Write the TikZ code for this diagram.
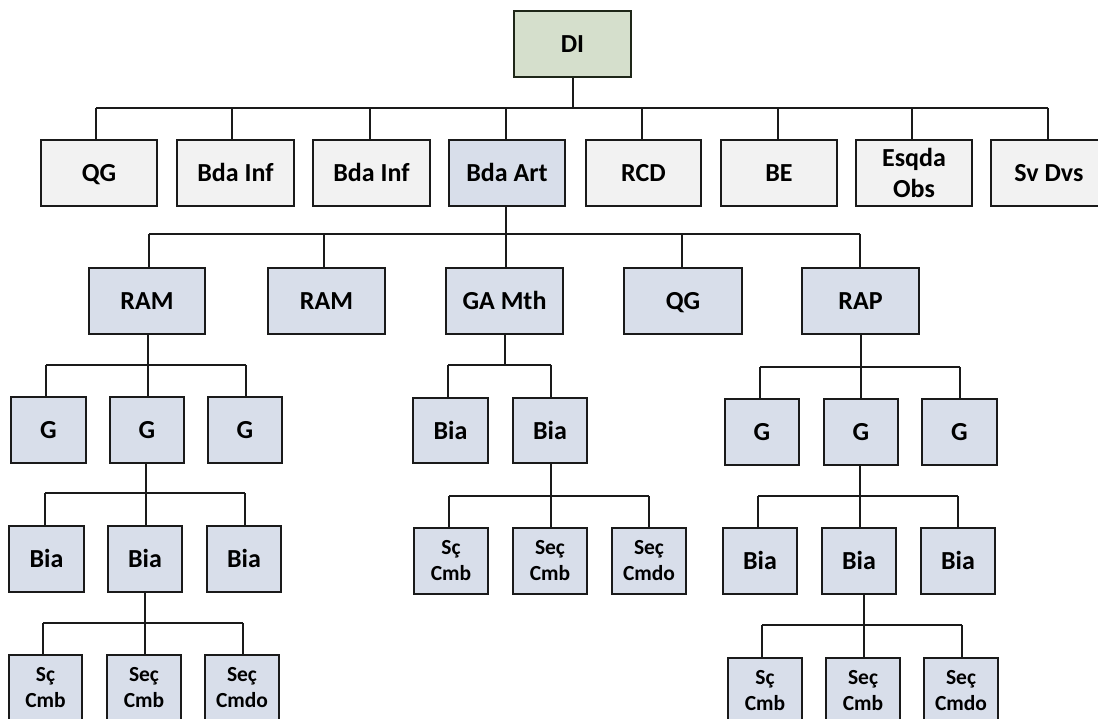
\documentclass[tikz,border=0pt]{standalone}
\usepackage{fontspec}
\setmainfont{Carlito}
\definecolor{rootfill}{HTML}{D5DFCC}
\definecolor{rootline}{HTML}{1E2618}
\definecolor{greyfill}{HTML}{F2F2F2}
\definecolor{bluefill}{HTML}{D8DEEA}
\definecolor{inkline}{HTML}{1A1A1A}
\tikzset{
  unitbox/.style={draw=inkline, line width=2.2pt, inner sep=0pt, align=center,
    font=\fontsize{26}{31}\selectfont\bfseries, text=black,
    text height=17pt, text depth=0pt},
  twoline/.style={text height={}, text depth={}},
  smallbox/.style={unitbox, twoline, font=\fontsize{21.5}{26}\selectfont\bfseries},
  rootunit/.style={unitbox, fill=rootfill, draw=rootline},
  staffunit/.style={unitbox, fill=greyfill},
  artunit/.style={unitbox, fill=bluefill},
  artsmall/.style={smallbox, fill=bluefill},
  wire/.style={draw=inkline, line width=2pt},
}
% box from its corners: name, x1, y1, x2, y2, style, text
\newcommand\orgbox[7]{%
  \node[#6, minimum width={(#4-#2)*1pt}, minimum height={(#5-#3)*1pt}]
    (#1) at ({(#2+#4)/2},{(#3+#5)/2}) {#7};}
% stem under a parent down to a bus: parent, x, bus y
\newcommand\stem[3]{\draw[wire] (#1.south -| #2,0) -- (#2,#3);}
% horizontal bus: y, x from, x to
\newcommand\bus[3]{\draw[wire] (#2,#1) -- (#3,#1);}
% drop from a bus to a child: child, x, bus y
\newcommand\drop[3]{\draw[wire] (#2,#3) -- (#1.north -| #2,0);}

\begin{document}
\begin{tikzpicture}[x=1pt,y=-1pt]
\fill[white] (0,0) rectangle (1098,719);

% division
\orgbox{DI}{514}{11}{631}{77}{rootunit}{DI}

% first level
\orgbox{QGa}{41}{140}{157}{206}{staffunit}{QG}
\orgbox{BIa}{177}{140}{294}{206}{staffunit}{Bda Inf}
\orgbox{BIb}{313}{140}{430}{206}{staffunit}{Bda Inf}
\orgbox{BArt}{449}{140}{565}{206}{artunit}{Bda Art}
\orgbox{RCD}{586}{140}{701}{206}{staffunit}{RCD}
\orgbox{BE}{721}{140}{837}{206}{staffunit}{BE}
\orgbox{EOb}{856}{140}{972}{206}{staffunit,twoline}{Esqda\\Obs}
\orgbox{SvD}{991}{140}{1107}{206}{staffunit}{Sv Dvs}

\stem{DI}{573}{108}
\bus{108}{96}{1048}
\foreach \n/\x in {QGa/96, BIa/232, BIb/370, BArt/506, RCD/642, BE/778, EOb/912, SvD/1048}
  {\drop{\n}{\x}{108}}

% artillery brigade
\orgbox{RAMa}{89}{268}{205}{334}{artunit}{RAM}
\orgbox{RAMb}{268}{268}{385}{334}{artunit}{RAM}
\orgbox{GAM}{446}{268}{563}{334}{artunit}{GA Mth}
\orgbox{QGb}{624}{268}{742}{334}{artunit}{QG}
\orgbox{RAP}{802}{268}{919}{334}{artunit}{RAP}

\stem{BArt}{506}{234}
\bus{234}{149}{860}
\foreach \n/\x in {RAMa/149, RAMb/324, GAM/506, QGb/682, RAP/860}
  {\drop{\n}{\x}{234}}

% RAM groups
\orgbox{Ga1}{11}{397}{86}{463}{artunit}{G}
\orgbox{Ga2}{110}{397}{184}{463}{artunit}{G}
\orgbox{Ga3}{208}{397}{282}{463}{artunit}{G}
\stem{RAMa}{148}{365}
\bus{365}{46}{246}
\foreach \n/\x in {Ga1/46, Ga2/148, Ga3/246}
  {\drop{\n}{\x}{365}}

% GA Mth batteries
\orgbox{Bm1}{413}{398}{488}{463}{artunit}{Bia}
\orgbox{Bm2}{513}{398}{587}{463}{artunit}{Bia}
\stem{GAM}{505}{365}
\bus{365}{448}{551}
\foreach \n/\x in {Bm1/448, Bm2/551}
  {\drop{\n}{\x}{365}}

% RAP groups
\orgbox{Gr1}{725}{399}{799}{465}{artunit}{G}
\orgbox{Gr2}{824}{399}{898}{465}{artunit}{G}
\orgbox{Gr3}{922}{399}{997}{465}{artunit}{G}
\stem{RAP}{861}{367}
\bus{367}{760}{960}
\foreach \n/\x in {Gr1/760, Gr2/861, Gr3/960}
  {\drop{\n}{\x}{367}}

% batteries under the left group
\orgbox{Ba1}{9}{526}{84}{592}{artunit}{Bia}
\orgbox{Ba2}{108}{526}{182}{592}{artunit}{Bia}
\orgbox{Ba3}{207}{526}{281}{592}{artunit}{Bia}
\stem{Ga2}{146}{493}
\bus{493}{45}{245}
\foreach \n/\x in {Ba1/45, Ba2/146, Ba3/245}
  {\drop{\n}{\x}{493}}

% sections under the left battery
\orgbox{Sa1}{9}{655}{82}{721}{artsmall}{Sç\\Cmb}
\orgbox{Sa2}{107}{655}{181}{721}{artsmall}{Seç\\Cmb}
\orgbox{Sa3}{205}{655}{279}{721}{artsmall}{Seç\\Cmdo}
\stem{Ba2}{145}{623}
\bus{623}{43}{243}
\foreach \n/\x in {Sa1/43, Sa2/145, Sa3/243}
  {\drop{\n}{\x}{623}}

% sections under the GA Mth battery
\orgbox{Sm1}{414}{528}{488}{594}{artsmall}{Sç\\Cmb}
\orgbox{Sm2}{513}{528}{587}{594}{artsmall}{Seç\\Cmb}
\orgbox{Sm3}{612}{528}{686}{594}{artsmall}{Seç\\Cmdo}
\stem{Bm2}{551}{496}
\bus{496}{449}{649}
\foreach \n/\x in {Sm1/449, Sm2/551, Sm3/649}
  {\drop{\n}{\x}{496}}

% batteries under the right group
\orgbox{Br1}{723}{528}{797}{594}{artunit}{Bia}
\orgbox{Br2}{822}{528}{896}{594}{artunit}{Bia}
\orgbox{Br3}{921}{528}{995}{594}{artunit}{Bia}
\stem{Gr2}{860}{496}
\bus{496}{758}{958}
\foreach \n/\x in {Br1/758, Br2/860, Br3/958}
  {\drop{\n}{\x}{496}}

% sections under the right battery
\orgbox{Sr1}{728}{658}{802}{724}{artsmall}{Sç\\Cmb}
\orgbox{Sr2}{826}{658}{900}{724}{artsmall}{Seç\\Cmb}
\orgbox{Sr3}{924}{658}{998}{724}{artsmall}{Seç\\Cmdo}
\stem{Br2}{864}{625}
\bus{625}{762}{962}
\foreach \n/\x in {Sr1/762, Sr2/864, Sr3/962}
  {\drop{\n}{\x}{625}}

\pgfresetboundingbox
\useasboundingbox (0,0) rectangle (1098,719);
\end{tikzpicture}
\end{document}
